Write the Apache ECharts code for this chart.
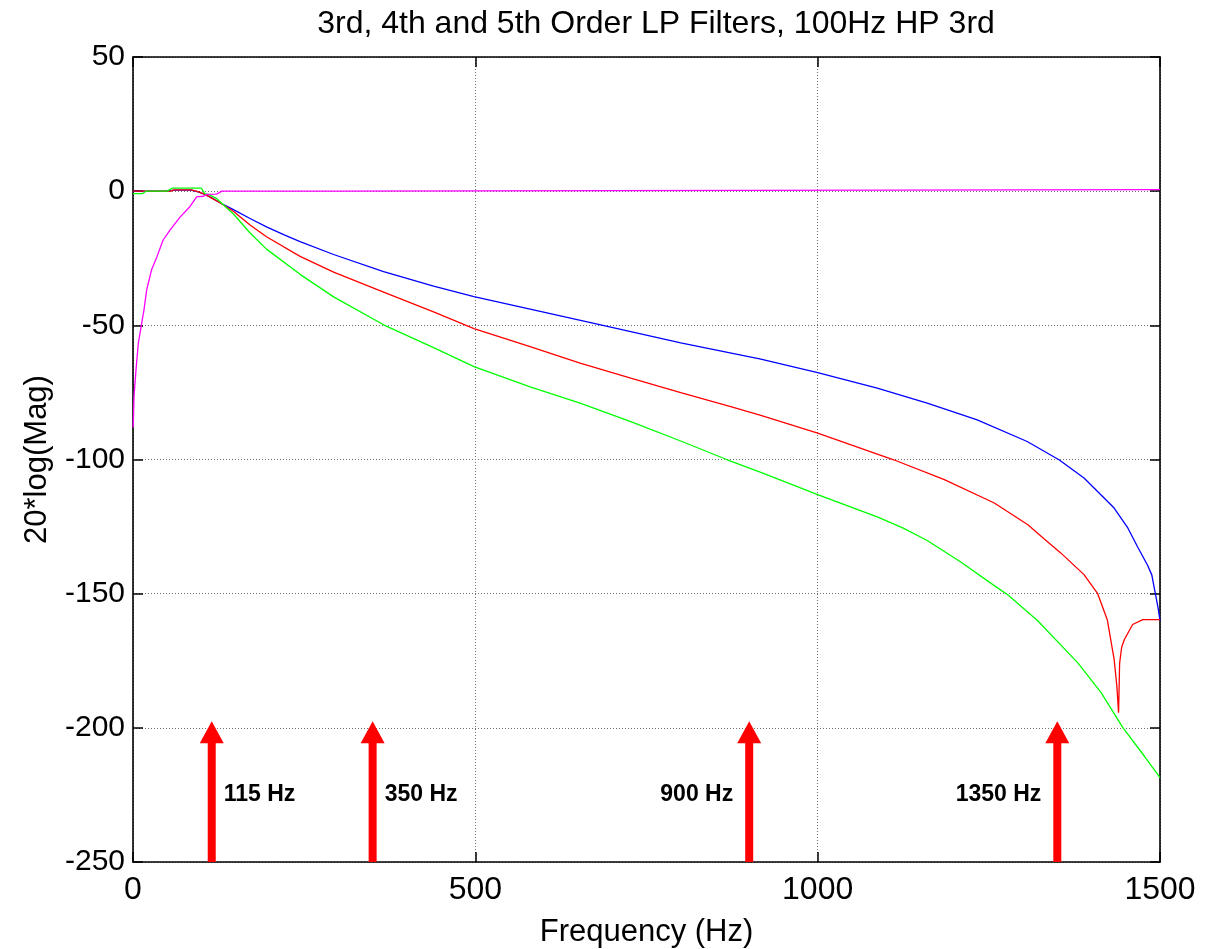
<!DOCTYPE html>
<html>
<head>
<meta charset="utf-8">
<script src="https://cdn.jsdelivr.net/npm/echarts@6/dist/echarts.min.js"></script>
<style>
  html, body { margin: 0; padding: 0; background: #ffffff; }
  #chart { width: 1207px; height: 949px; }
</style>
</head>
<body>
<div id="chart"></div>
<script>
// Magnitude responses, [frequency Hz, dB]
const lp3rd = [
  [0, 0], [50, 0], [60, 0.4], [85, 0.4], [95, -0.3], [105, -1.2], [115, -2.5], [127, -4.3],
  [146, -6.8], [171, -10.2], [195, -13.3], [220, -16.2], [244, -18.8], [293, -23.6],
  [366, -30.0], [439, -35.4], [498, -39.3], [580, -44], [688, -50.1],
  [800, -56.5], [917, -62.6], [1000, -67.6], [1087, -73.4], [1160, -79], [1233, -85.2],
  [1306, -93.3], [1353, -100.2], [1389, -106.9], [1433, -118.1], [1453, -125.5],
  [1467, -132.4], [1482, -139.5], [1488, -143], [1493, -149.7], [1497, -155], [1500, -160]
];
const lp4th = [
  [0, 0], [55, 0], [60, 0.5], [85, 0.5], [95, -0.2], [105, -1.2], [115, -2.6], [127, -4.3],
  [147, -7.6], [171, -12.6], [195, -17], [244, -24.3], [293, -30.2], [366, -37.6], [439, -45],
  [498, -51.2], [580, -57.9], [653, -64.1], [727, -69.7], [800, -75.1], [873, -80.3],
  [917, -83.6], [1000, -90.2], [1111, -100.1], [1185, -107.5], [1258, -116.2],
  [1307, -124.3], [1331, -129.6], [1355, -134.8], [1389, -142.9], [1409, -150],
  [1423, -159.7], [1433, -174.5], [1437, -184.5], [1439.5, -194.4], [1441, -176],
  [1444, -170], [1448, -167.1], [1460, -161.5], [1475, -159.7], [1500, -159.7]
];
const lp5th = [
  [0, -0.9], [14, -0.9], [19, 0], [50, 0], [57, 1.1], [100, 1.1], [105, -1], [110, -1.2],
  [122, -2.7], [147, -8.6], [171, -15.6], [195, -21.6], [244, -31.0], [293, -39.4], [366, -49.8],
  [439, -58.3], [498, -65.4], [580, -72.9], [653, -79], [727, -85.9],
  [800, -93.1], [868, -100.1], [917, -104.8], [1000, -113.1], [1087, -121.4], [1125, -125.6],
  [1160, -130.2], [1209, -138.2], [1258, -147.0], [1278, -150.5], [1321, -160], [1380, -175.8],
  [1414, -186.9], [1446, -200], [1477, -210.5], [1500, -218.6]
];
const hp3rd100 = [
  [0.3, -88], [1.5, -76.5], [4.4, -66.5], [7.8, -56.6], [12.7, -49.2], [16, -44.3],
  [20, -36.8], [27, -29.4], [35, -24.4], [44, -18.2], [54, -14.5], [69, -9.6], [83, -5.8],
  [93, -2.1], [103, -1.9], [108, -1.2], [122, -1.1], [130, 0], [303, 0], [305, 0.6], [1500, 0.6]
];

// Marked frequencies and their arrow extent (dB)
const markFreqs = [115, 350, 900, 1350];
const markLabels = ['115 Hz', '350 Hz', '900 Hz', '1350 Hz'];
const arrowTipDb = -197.5;
const arrowBaseDb = -250;
const labelDb = -225;

const xTicks = { min: 0, max: 1500, step: 500 };
const yTicks = { min: -250, max: 50, step: 50 };

const FONT = "'Liberation Sans', Arial, Helvetica, sans-serif";

const chart = echarts.init(document.getElementById('chart'), null, { renderer: 'canvas' });

const gridLine = { show: true, lineStyle: { color: '#6f6f6f', type: [1, 2], width: 1 } };
const frameLine = { show: true, onZero: false, lineStyle: { color: '#000', width: 1.6 } };
const innerTick = { show: true, inside: true, length: 10, lineStyle: { color: '#000', width: 1.5 } };

function lineSeries(data, color) {
  return {
    type: 'line', data: data, showSymbol: false, symbol: 'none',
    lineStyle: { color: color, width: 1.3 }, itemStyle: { color: color },
    animation: false, clip: true, z: 3
  };
}

chart.setOption({
  animation: false,
  backgroundColor: '#ffffff',
  title: {
    text: '3rd, 4th and 5th Order LP Filters, 100Hz HP 3rd',
    left: 651, top: 3, textAlign: 'center',
    textStyle: { fontFamily: FONT, fontSize: 32, fontWeight: 'normal', color: '#000' }
  },
  grid: { left: 133, right: 47, top: 57, bottom: 87, containLabel: false, outerBoundsMode: 'none' },
  xAxis: [
    {
      type: 'value', position: 'bottom', min: xTicks.min, max: xTicks.max, interval: xTicks.step,
      axisLine: frameLine, axisTick: innerTick, splitLine: gridLine,
      axisLabel: { fontFamily: FONT, fontSize: 32, color: '#000', margin: 12, formatter: v => String(v) },
      name: 'Frequency (Hz)', nameLocation: 'middle', nameGap: 55,
      nameTextStyle: { fontFamily: FONT, fontSize: 31, color: '#000' }
    },
    {
      type: 'value', position: 'top', min: xTicks.min, max: xTicks.max, interval: xTicks.step,
      axisLine: frameLine, axisTick: innerTick, splitLine: { show: false },
      axisLabel: { show: false }
    }
  ],
  yAxis: [
    {
      type: 'value', position: 'left', min: yTicks.min, max: yTicks.max, interval: yTicks.step,
      axisLine: frameLine, axisTick: innerTick, splitLine: gridLine,
      axisLabel: { fontFamily: FONT, fontSize: 30, color: '#000', margin: 8, formatter: v => String(v) },
      name: '20*log(Mag)', nameLocation: 'middle', nameGap: 80, nameRotate: 90,
      nameMoveOverlap: false,
      nameTextStyle: { fontFamily: FONT, fontSize: 31, color: '#000' }
    },
    {
      type: 'value', position: 'right', min: yTicks.min, max: yTicks.max, interval: yTicks.step,
      axisLine: frameLine, axisTick: innerTick, splitLine: { show: false },
      axisLabel: { show: false }
    }
  ],
  series: [
    lineSeries(lp3rd, '#0000ff'),
    lineSeries(lp4th, '#ff0000'),
    lineSeries(lp5th, '#00ff00'),
    lineSeries(hp3rd100, '#ff00ff'),
    {
      type: 'custom',
      data: markFreqs.map((f, i) => [f, i]),
      animation: false,
      z: 5,
      renderItem: function (params, api) {
        const f = api.value(0);
        const idx = api.value(1);
        const tip = api.coord([f, arrowTipDb]);
        const base = api.coord([f, arrowBaseDb]);
        const lab = api.coord([f, labelDb]);
        const headH = 22, headW = 24, shaftW = 8;
        const right = f < 600;
        return {
          type: 'group',
          children: [
            {
              type: 'rect',
              shape: { x: tip[0] - shaftW / 2, y: tip[1] + headH - 1, width: shaftW, height: base[1] - tip[1] - headH + 1 },
              style: { fill: '#ff0000' }
            },
            {
              type: 'polygon',
              shape: { points: [[tip[0], tip[1]], [tip[0] - headW / 2, tip[1] + headH], [tip[0] + headW / 2, tip[1] + headH]] },
              style: { fill: '#ff0000' }
            },
            {
              type: 'text',
              x: right ? tip[0] + 12 : tip[0] - 16,
              y: lab[1],
              style: {
                text: markLabels[idx],
                fill: '#000',
                font: "bold 23px 'Liberation Sans', Arial, sans-serif",
                align: right ? 'left' : 'right',
                verticalAlign: 'middle'
              }
            }
          ]
        };
      }
    }
  ]
});
</script>
</body>
</html>
